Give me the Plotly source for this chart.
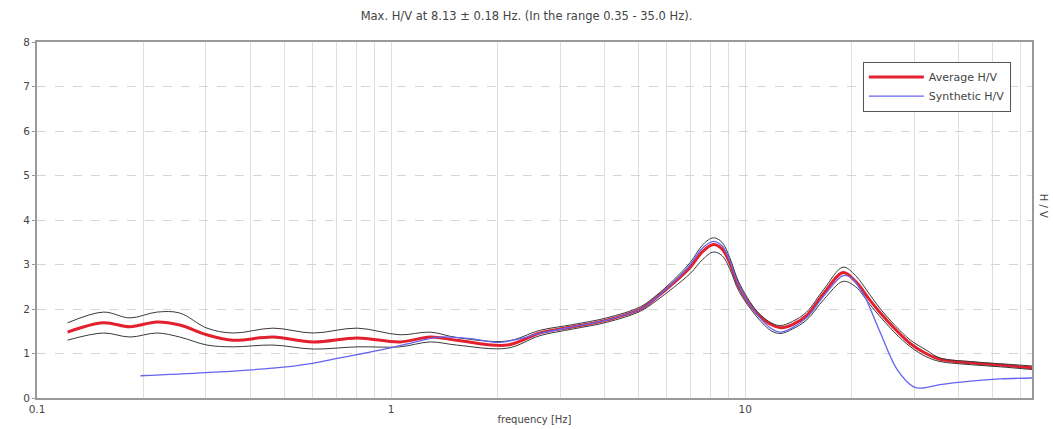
import plotly.graph_objects as go

# Frequencies (Hz) for the average curve and its +/- std curves
freq = [0.122, 0.154, 0.183, 0.218, 0.253, 0.302, 0.358, 0.464, 0.602, 0.802,
        1.06, 1.29, 1.53, 2.13, 2.63, 3.26, 4.06, 5.06, 5.6, 6.27,
        7.0, 7.6, 8.13, 8.6, 9.05, 9.6, 10.8, 11.9, 12.6, 13.6,
        14.9, 16.7, 18.9, 20.5, 22.5, 24.1, 26.5, 29.3, 32.4, 35.5,
        43.2, 52.6, 64.6]
avg_hv = [1.48, 1.69, 1.60, 1.71, 1.64, 1.42, 1.30, 1.37, 1.26, 1.35,
          1.26, 1.37, 1.30, 1.19, 1.46, 1.60, 1.75, 2.00, 2.25, 2.58,
          2.94, 3.30, 3.45, 3.35, 3.03, 2.50, 1.90, 1.64, 1.58, 1.65,
          1.85, 2.36, 2.82, 2.62, 2.20, 1.91, 1.55, 1.22, 1.00, 0.87,
          0.79, 0.74, 0.68]
upper_hv = [1.69, 1.93, 1.80, 1.93, 1.91, 1.57, 1.46, 1.57, 1.46, 1.57,
            1.42, 1.48, 1.36, 1.28, 1.52, 1.65, 1.80, 2.05, 2.30, 2.65,
            3.05, 3.45, 3.60, 3.50, 3.15, 2.60, 1.95, 1.68, 1.63, 1.72,
            1.93, 2.45, 2.94, 2.75, 2.32, 2.00, 1.63, 1.30, 1.08, 0.90,
            0.82, 0.77, 0.72]
lower_hv = [1.30, 1.46, 1.37, 1.46, 1.37, 1.19, 1.15, 1.19, 1.10, 1.15,
            1.15, 1.26, 1.19, 1.12, 1.40, 1.55, 1.70, 1.95, 2.18, 2.48,
            2.80, 3.12, 3.28, 3.20, 2.90, 2.40, 1.82, 1.50, 1.45, 1.55,
            1.75, 2.22, 2.62, 2.50, 2.10, 1.82, 1.46, 1.15, 0.93, 0.82,
            0.75, 0.70, 0.64]

# Synthetic H/V curve
freq_syn = [0.196, 0.3, 0.464, 0.6, 0.717, 0.99, 1.2, 1.37, 1.7, 2.0,
            2.3, 2.63, 3.26, 4.06, 5.06, 5.6, 6.27, 7.0, 7.6, 8.13,
            8.6, 9.05, 9.6, 10.8, 11.9, 12.6, 13.6, 14.9, 16.7, 18.9,
            20.0, 21.1, 21.8, 24.1, 26.9, 29.9, 31.5, 35.5, 43.2, 52.6,
            64.6]
syn_hv = [0.50, 0.57, 0.67, 0.78, 0.90, 1.12, 1.28, 1.37, 1.33, 1.25,
          1.33, 1.45, 1.60, 1.75, 2.00, 2.25, 2.60, 3.00, 3.38, 3.52,
          3.42, 3.08, 2.52, 1.88, 1.55, 1.48, 1.58, 1.80, 2.30, 2.75,
          2.70, 2.45, 2.27, 1.46, 0.63, 0.25, 0.22, 0.30, 0.38, 0.43,
          0.45]

x_tickvals = [0.1, 0.2, 0.3, 0.4, 0.5, 0.6, 0.7, 0.8, 0.9,
              1, 2, 3, 4, 5, 6, 7, 8, 9,
              10, 20, 30, 40, 50, 60]
x_ticktext = ["0.1", "", "", "", "", "", "", "", "",
              "1", "", "", "", "", "", "", "", "",
              "10", "", "", "", "", ""]
y_tickvals = [0, 1, 2, 3, 4, 5, 6, 7, 8]

title_text = "Max. H/V at 8.13 ± 0.18 Hz. (In the range 0.35 - 35.0 Hz)."

FONT = "DejaVu Sans, Liberation Sans, Arial, sans-serif"

fig = go.Figure()
fig.add_trace(go.Scatter(x=freq, y=avg_hv, mode="lines", name="Average H/V",
                         line=dict(color="#e3202e", width=3, shape="spline")))
fig.add_trace(go.Scatter(x=freq, y=upper_hv, mode="lines", showlegend=False,
                         line=dict(color="#3a3a3a", width=1, shape="spline")))
fig.add_trace(go.Scatter(x=freq, y=lower_hv, mode="lines", showlegend=False,
                         line=dict(color="#3a3a3a", width=1, shape="spline")))
fig.add_trace(go.Scatter(x=freq_syn, y=syn_hv, mode="lines", name="Synthetic H/V",
                         line=dict(color="#6464ee", width=1.3, shape="spline")))

fig.update_layout(
    width=1053, height=429,
    margin=dict(l=37, r=21, t=42, b=31),
    paper_bgcolor="white", plot_bgcolor="white",
    font=dict(family=FONT, size=10, color="#444"),
    title=dict(text=title_text, x=0.5, xanchor="center", y=0.962, yanchor="middle",
               font=dict(family=FONT, size=11.5, color="#444")),
    showlegend=True,
    legend=dict(x=0.83, y=0.945, xanchor="left", yanchor="top",
                bgcolor="white", bordercolor="#555", borderwidth=1,
                itemwidth=55,
                font=dict(family=FONT, size=11, color="#444"), tracegroupgap=0),
    xaxis=dict(type="log", range=[-1, 1.81], automargin=False,
               tickmode="array", tickvals=x_tickvals, ticktext=x_ticktext,
               showgrid=True, gridcolor="#dedede", gridwidth=1,
               showline=True, linecolor="#999", linewidth=2, mirror=True,
               ticks="", zeroline=False,
               title=dict(text="frequency [Hz]", standoff=2,
                          font=dict(family=FONT, size=10)),
               tickfont=dict(size=10.5)),
    yaxis=dict(range=[0, 8], tickmode="array", tickvals=y_tickvals,
               automargin=False,
               showgrid=True, gridcolor="#d6d6d6", griddash="dash", gridwidth=1,
               showline=True, linecolor="#999", linewidth=2, mirror=True,
               ticks="outside", ticklen=3, tickcolor="#999", zeroline=False,
               tickfont=dict(size=10.5)),
)

fig.add_annotation(text="H / V", xref="paper", yref="paper", x=1.0, y=0.54,
                   xshift=11, showarrow=False, textangle=90,
                   xanchor="center", yanchor="middle",
                   font=dict(family=FONT, size=10, color="#444"))

fig.write_html("out.html")
